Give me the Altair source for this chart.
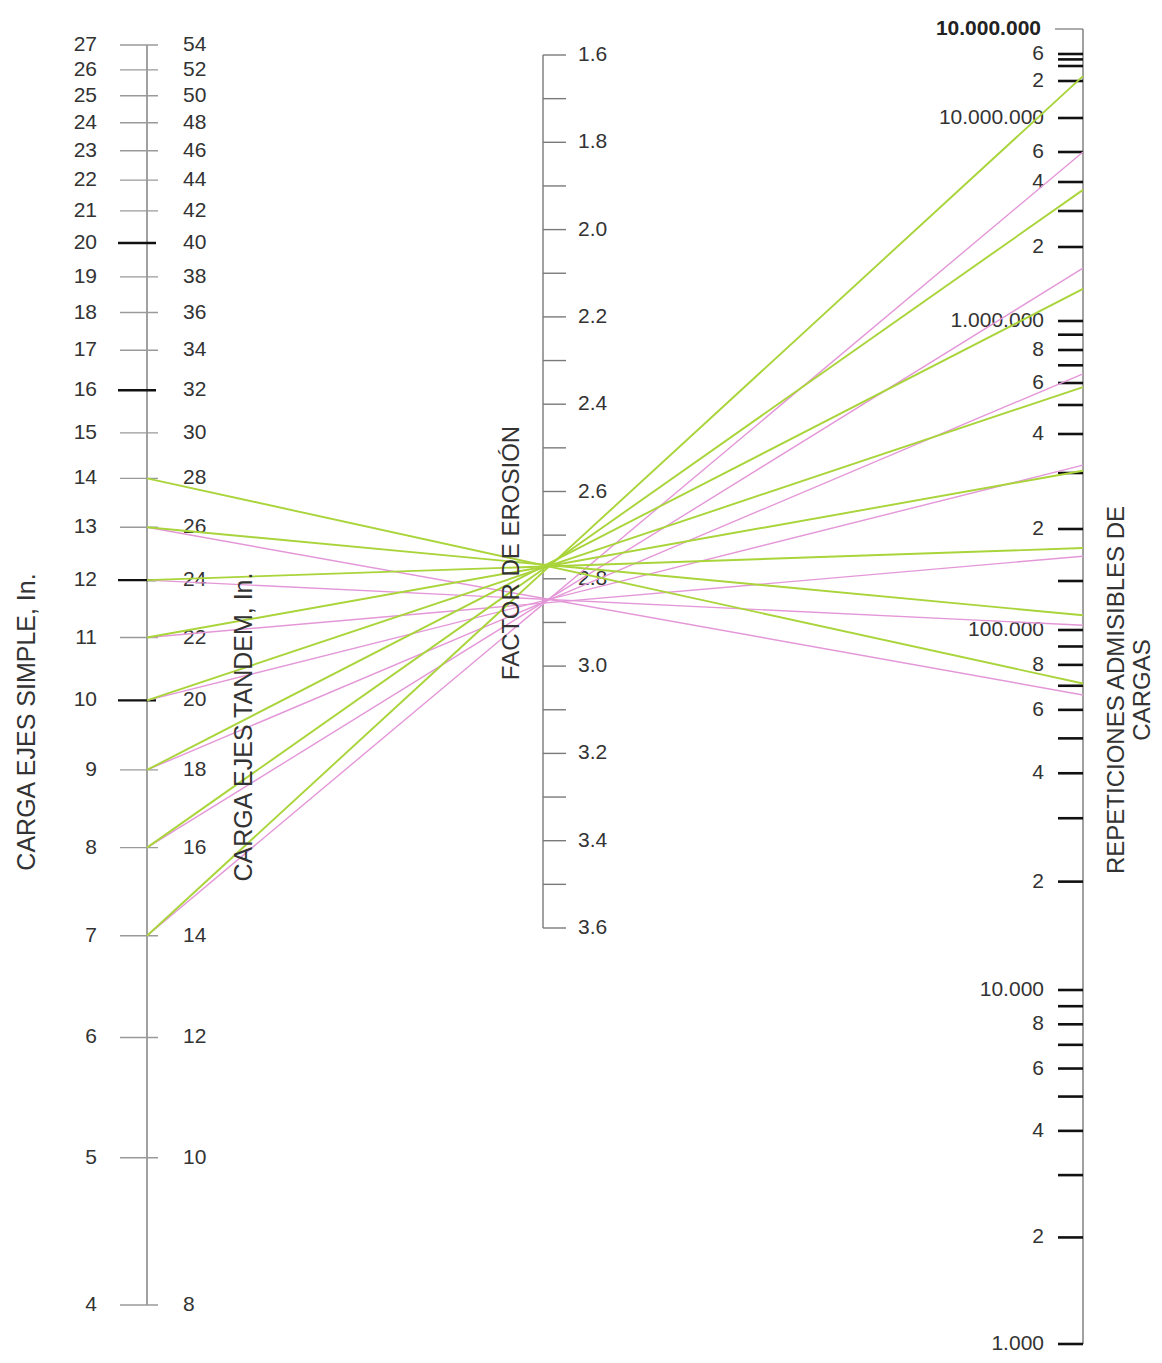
import altair as alt
import numpy as np
import pandas as pd

# ------------------------------------------------------------------ data
# left scale: axle load (single axle / tandem axle)
SIMPLE_LOADS = [4, 5, 6, 7, 8, 9, 10, 11, 12, 13, 14, 15, 16, 17, 18, 19, 20,
                21, 22, 23, 24, 25, 26, 27]
TANDEM_LOADS = [8, 10, 12, 14, 16, 18, 20, 22, 24, 26, 28, 30, 32, 34, 36, 38,
                40, 42, 44, 46, 48, 50, 52, 54]
DARK_TICK_LOADS = [10, 12, 16, 20]

# middle scale: erosion factor
EROSION_TICKS = [1.6, 1.7, 1.8, 1.9, 2.0, 2.1, 2.2, 2.3, 2.4, 2.5, 2.6, 2.7,
                 2.8, 2.9, 3.0, 3.1, 3.2, 3.3, 3.4, 3.5, 3.6]
EROSION_LABEL_VALUES = [1.6, 1.8, 2.0, 2.2, 2.4, 2.6, 2.8, 3.0, 3.2, 3.4, 3.6]
EROSION_LABEL_TEXT = ["1.6", "1.8", "2.0", "2.2", "2.4", "2.6", "2.8", "3.0",
                      "3.2", "3.4", "3.6"]

# right scale: allowable load repetitions
REPS_TICKS = [1000, 2000, 3000, 4000, 5000, 6000, 7000, 8000, 9000,
              10000, 20000, 30000, 40000, 50000, 60000, 70000, 80000, 90000,
              100000, 150000, 200000, 300000, 400000, 500000, 600000, 700000,
              800000, 900000, 1000000, 2000000, 3000000, 4000000, 6000000,
              10000000, 20000000, 40000000, 50000000, 60000000]
REPS_TOP = 100000000
REPS_LABEL_VALUES = [100000000, 60000000, 20000000, 10000000, 6000000, 4000000,
                     2000000, 1000000, 800000, 600000, 400000, 200000, 100000,
                     80000, 60000, 40000, 20000, 10000, 8000, 6000, 4000, 2000,
                     1000]
REPS_LABEL_TEXT = ["10.000.000", "6", "2", "10.000.000", "6", "4", "2",
                   "1.000.000", "8", "6", "4", "2", "100.000", "8", "6", "4",
                   "2", "10.000", "8", "6", "4", "2", "1.000"]

# example lines (load -> allowable repetitions)
GREEN_LOADS = [7, 8, 9, 10, 11, 12, 13, 14]
GREEN_REPS = [25000000, 3700000, 1350000, 580000, 305000, 180000, 113000, 71000]
PINK_LOADS = [7, 8, 9, 10, 11, 12, 13]
PINK_REPS = [6000000, 1640000, 650000, 318000, 172000, 104000, 66000]

# ------------------------------------------------------------------ nomograph scales
# (calibration of the three functional scales, in page pixels)
LEFT_X, MID_X, RIGHT_X = 147, 543, 1083
LOAD_RANGE = (4, 27, 1305, 45)          # log scale: value lo/hi -> pos lo/hi
EROSION_RANGE = (1.6, 3.6, 55, 928)     # linear scale
REPS_CAL_VALUES = [1e3, 1e4, 1e5, 1.5e5, 2e5, 3e5, 4e5, 5e5, 6e5, 8e5, 1e6,
                   2e6, 3e6, 4e6, 6e6, 1e7, 2e7, 4e7, 6e7, 1e8]
REPS_CAL_POS = [1344, 990, 630, 581, 529, 473, 434, 405, 383, 350, 321,
                247, 211, 182, 152, 118, 81, 66, 54, 29]


def load_pos(v):
    lo, hi, p_lo, p_hi = LOAD_RANGE
    t = (np.log(np.asarray(v, float)) - np.log(lo)) / (np.log(hi) - np.log(lo))
    return p_lo + t * (p_hi - p_lo)


def erosion_pos(v):
    lo, hi, p_lo, p_hi = EROSION_RANGE
    t = (np.asarray(v, float) - lo) / (hi - lo)
    return p_lo + t * (p_hi - p_lo)


def reps_pos(v):
    return np.interp(np.log10(np.asarray(v, float)),
                     np.log10(REPS_CAL_VALUES), REPS_CAL_POS)


# ------------------------------------------------------------------ chart
W, H = 1146, 1345
FONT = "Liberation Sans"
TXT = "#333333"
YS = alt.Scale(domain=[8 + H, 8])       # page pixel -> plot


def px(v):
    return alt.value(v - 8)


def Y(field):
    return alt.Y(field, type="quantitative", scale=YS, axis=None)


left_df = pd.DataFrame({
    "load": SIMPLE_LOADS,
    "tandem": [str(t) for t in TANDEM_LOADS],
    "simple": [str(s) for s in SIMPLE_LOADS],
})
left_df["pos"] = load_pos(left_df["load"])
left_df["dark"] = left_df["load"].isin(DARK_TICK_LOADS)

mid_df = pd.DataFrame({"ef": EROSION_TICKS})
mid_df["pos"] = erosion_pos(mid_df["ef"])
midlab_df = pd.DataFrame({"ef": EROSION_LABEL_VALUES, "label": EROSION_LABEL_TEXT})
midlab_df["pos"] = erosion_pos(midlab_df["ef"])

right_df = pd.DataFrame({"reps": REPS_TICKS})
right_df["pos"] = reps_pos(right_df["reps"])
rightlab_df = pd.DataFrame({"reps": REPS_LABEL_VALUES, "label": REPS_LABEL_TEXT})
rightlab_df["pos"] = reps_pos(rightlab_df["reps"])
rightlab_df["top"] = rightlab_df["reps"] == REPS_TOP

axes_df = pd.DataFrame({
    "axis": ["left", "mid", "right"],
    "p1": [float(load_pos(min(SIMPLE_LOADS))), float(erosion_pos(EROSION_TICKS[0])),
           float(reps_pos(min(REPS_TICKS)))],
    "p2": [float(load_pos(max(SIMPLE_LOADS))), float(erosion_pos(EROSION_TICKS[-1])),
           float(reps_pos(REPS_TOP))],
})

green_df = pd.DataFrame({"load": GREEN_LOADS, "reps": GREEN_REPS})
pink_df = pd.DataFrame({"load": PINK_LOADS, "reps": PINK_REPS})
for d in (green_df, pink_df):
    d["yl"] = load_pos(d["load"])
    d["yr"] = reps_pos(d["reps"])

layers = []

# axis lines
for name, xpos in (("left", LEFT_X), ("mid", MID_X), ("right", RIGHT_X)):
    layers.append(
        alt.Chart(axes_df[axes_df["axis"] == name])
        .mark_rule(color="#8a8a8a", strokeWidth=1.6)
        .encode(x=px(xpos), y=Y("p1"), y2="p2")
    )

# left ticks
layers.append(
    alt.Chart(left_df[~left_df["dark"]])
    .mark_rule(color="#9a9a9a", strokeWidth=1.4)
    .encode(x=px(120), x2=px(158), y=Y("pos"))
)
layers.append(
    alt.Chart(left_df[left_df["dark"]])
    .mark_rule(color="#111111", strokeWidth=2.4)
    .encode(x=px(118), x2=px(156), y=Y("pos"))
)
# left labels
layers.append(
    alt.Chart(left_df)
    .mark_text(align="right", baseline="middle", font=FONT, fontSize=21, color=TXT)
    .encode(x=px(97), y=Y("pos"), text="simple:N")
)
layers.append(
    alt.Chart(left_df)
    .mark_text(align="left", baseline="middle", font=FONT, fontSize=21, color=TXT)
    .encode(x=px(183), y=Y("pos"), text="tandem:N")
)

# middle ticks + labels
layers.append(
    alt.Chart(mid_df)
    .mark_rule(color="#7a7a7a", strokeWidth=1.4)
    .encode(x=px(MID_X), x2=px(MID_X + 23), y=Y("pos"))
)
layers.append(
    alt.Chart(midlab_df)
    .mark_text(align="left", baseline="middle", font=FONT, fontSize=21, color=TXT)
    .encode(x=px(MID_X + 35), y=Y("pos"), text="label:N")
)

# right ticks + labels
layers.append(
    alt.Chart(right_df)
    .mark_rule(color="#111111", strokeWidth=2.6)
    .encode(x=px(RIGHT_X - 25), x2=px(RIGHT_X), y=Y("pos"))
)
layers.append(
    alt.Chart(pd.DataFrame({"pos": [float(reps_pos(REPS_TOP))]}))
    .mark_rule(color="#8a8a8a", strokeWidth=1.4)
    .encode(x=px(RIGHT_X - 28), x2=px(RIGHT_X), y=Y("pos"))
)
layers.append(
    alt.Chart(rightlab_df[~rightlab_df["top"]])
    .mark_text(align="right", baseline="middle", font=FONT, fontSize=21, color=TXT)
    .encode(x=px(RIGHT_X - 39), y=Y("pos"), text="label:N")
)
layers.append(
    alt.Chart(rightlab_df[rightlab_df["top"]])
    .mark_text(align="right", baseline="middle", font=FONT, fontSize=21,
               fontWeight="bold", color="#222222")
    .encode(x=px(RIGHT_X - 42), y=Y("pos"), text="label:N")
)

# example lines
layers.append(
    alt.Chart(pink_df)
    .mark_rule(color="#e497d8", strokeWidth=1.4)
    .encode(x=px(LEFT_X), x2=px(RIGHT_X), y=Y("yl"), y2="yr")
)
layers.append(
    alt.Chart(green_df)
    .mark_rule(color="#a9d43a", strokeWidth=1.9)
    .encode(x=px(LEFT_X), x2=px(RIGHT_X), y=Y("yl"), y2="yr")
)

# axis titles
one = pd.DataFrame({"k": [0]})


def title(text, x, y, size=24, lh=28):
    return (
        alt.Chart(one)
        .mark_text(angle=270, align="center", baseline="middle", font=FONT,
                   fontSize=size, color=TXT, lineHeight=lh)
        .encode(x=px(x), y=px(y), text=alt.value(text))
    )


layers.append(title("CARGA  EJES SIMPLE, In.", 27, 722, size=25))
layers.append(title("CARGA  EJES TANDEM, In.", 244, 727, size=25))
layers.append(title("FACTOR DE EROSIÓN", 512, 553))
layers.append(title(["REPETICIONES ADMISIBLES DE", "CARGAS"], 1117, 690, lh=26))

chart = (
    alt.layer(*layers)
    .properties(width=W, height=H, padding=0, background="white",
                autosize=alt.AutoSizeParams(type="none"))
    .configure_view(stroke=None)
)

chart.save("out.html", embed_options={"renderer": "svg", "actions": False})
